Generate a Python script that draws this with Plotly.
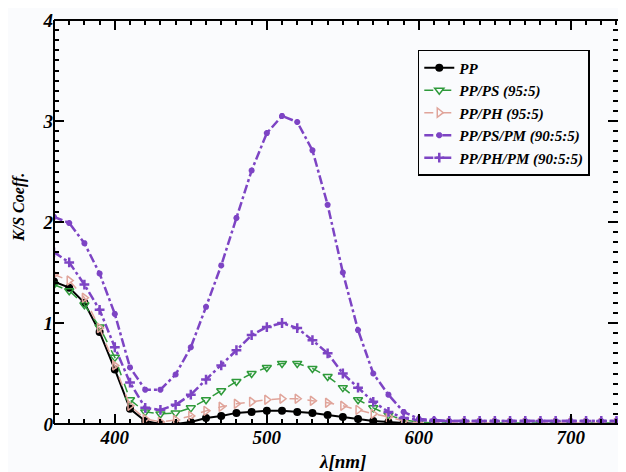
import plotly.graph_objects as go

wavelength = list(range(360, 750, 10))

pp = [1.41, 1.35, 1.20, 0.91, 0.54, 0.15, 0.03, 0.00, 0.00, 0.02,
      0.06, 0.08, 0.11, 0.12, 0.13, 0.13, 0.12, 0.11, 0.09, 0.07,
      0.05, 0.03, 0.02, 0.01, 0.00, 0.00, 0.00, 0.00, 0.00, 0.00,
      0.00, 0.00, 0.00, 0.00, 0.00, 0.00, 0.00, 0.00, 0.00]
pp_ps = [1.38, 1.32, 1.18, 0.96, 0.66, 0.24, 0.12, 0.10, 0.11, 0.16,
         0.24, 0.33, 0.42, 0.50, 0.56, 0.60, 0.60, 0.55, 0.47, 0.36,
         0.24, 0.16, 0.09, 0.04, 0.02, 0.01, 0.01, 0.01, 0.01, 0.01,
         0.01, 0.01, 0.01, 0.01, 0.01, 0.01, 0.01, 0.01, 0.01]
pp_ph = [1.48, 1.42, 1.25, 0.95, 0.58, 0.18, 0.05, 0.02, 0.04, 0.08,
         0.13, 0.17, 0.20, 0.22, 0.24, 0.25, 0.25, 0.23, 0.21, 0.18,
         0.14, 0.10, 0.07, 0.03, 0.01, 0.01, 0.01, 0.01, 0.01, 0.01,
         0.01, 0.01, 0.01, 0.01, 0.01, 0.01, 0.01, 0.01, 0.01]
pp_ps_pm = [2.05, 1.99, 1.79, 1.49, 1.09, 0.56, 0.34, 0.34, 0.49, 0.76,
            1.16, 1.57, 2.04, 2.51, 2.88, 3.05, 2.99, 2.71, 2.17, 1.50,
            0.93, 0.50, 0.29, 0.12, 0.05, 0.04, 0.03, 0.03, 0.03, 0.03,
            0.03, 0.03, 0.03, 0.03, 0.03, 0.03, 0.03, 0.03, 0.03]
pp_ph_pm = [1.70, 1.60, 1.38, 1.13, 0.76, 0.41, 0.16, 0.14, 0.19, 0.29,
            0.44, 0.58, 0.73, 0.88, 0.96, 1.00, 0.95, 0.83, 0.70, 0.50,
            0.36, 0.22, 0.12, 0.06, 0.04, 0.03, 0.03, 0.03, 0.03, 0.03,
            0.03, 0.03, 0.03, 0.03, 0.03, 0.03, 0.03, 0.03, 0.03]

names = ["PP", "PP/PS (95:5)", "PP/PH (95:5)", "PP/PS/PM (90:5:5)", "PP/PH/PM (90:5:5)"]
x_title = "λ[nm]"
y_title = "K/S Coeff."

FONT = "Liberation Serif"
purple = "#7d44c4"
bg = "#fafbfd"

fig = go.Figure()
fig.add_trace(go.Scatter(x=wavelength, y=pp, name=names[0], mode="lines+markers",
                         line=dict(color="black", width=2),
                         marker=dict(symbol="circle", size=8, color="black")))
fig.add_trace(go.Scatter(x=wavelength, y=pp_ps, name=names[1], mode="lines+markers",
                         line=dict(color="#2e9a3a", width=1.5, dash="dash"),
                         marker=dict(symbol="triangle-down-open", size=8, color="#2e9a3a",
                                     line=dict(width=1.5))))
fig.add_trace(go.Scatter(x=wavelength, y=pp_ph, name=names[2], mode="lines+markers",
                         line=dict(color="#e0a49a", width=1.5, dash="dash"),
                         marker=dict(symbol="triangle-right-open", size=8, color="#e0a49a",
                                     line=dict(width=1.5))))
fig.add_trace(go.Scatter(x=wavelength, y=pp_ps_pm, name=names[3], mode="lines+markers",
                         line=dict(color=purple, width=2.5, dash="dashdot"),
                         marker=dict(symbol="asterisk-open", size=5, color=purple,
                                     line=dict(width=2, color=purple))))
fig.add_trace(go.Scatter(x=wavelength, y=pp_ph_pm, name=names[4], mode="lines+markers",
                         line=dict(color=purple, width=2.5, dash="dashdot"),
                         marker=dict(symbol="cross-thin-open", size=7, color=purple,
                                     line=dict(width=2.5, color=purple))))

tickfont = dict(family=FONT, size=19, color="black", weight="bold", style="italic")

frame_line = dict(color="black", width=2)
fig.update_layout(
    width=610, height=464,
    margin=dict(l=46, r=0, t=12, b=48),
    paper_bgcolor=bg,
    plot_bgcolor=bg,
    font=dict(family=FONT, color="black"),
    showlegend=True,
    legend=dict(x=0.645, y=0.926, xanchor="left", yanchor="top",
                bordercolor="black", borderwidth=1.5, bgcolor=bg,
                font=dict(family=FONT, size=15, color="black", weight="bold", style="italic"),
                tracegroupgap=0, itemwidth=30),
    shapes=[
        dict(type="line", xref="paper", yref="paper", x0=0, x1=0, y0=0, y1=1, line=frame_line),
        dict(type="line", xref="paper", yref="paper", x0=0, x1=1, y0=0, y1=0, line=frame_line),
        dict(type="line", xref="paper", yref="paper", x0=0, x1=1, y0=1, y1=1, line=frame_line),
    ],
    annotations=[
        dict(text=x_title, xref="paper", yref="paper", x=0.511, y=-0.094,
             xanchor="center", yanchor="middle", showarrow=False,
             font=dict(family=FONT, size=19, color="black", weight="bold", style="italic")),
        dict(text=y_title, xref="paper", yref="paper", x=-0.062, y=0.535, textangle=-90,
             xanchor="center", yanchor="middle", showarrow=False,
             font=dict(family=FONT, size=16, color="black", weight="bold", style="italic")),
    ],
)
fig.update_xaxes(range=[360, 731], tickvals=[400, 500, 600, 700],
                 ticks="inside", ticklen=10, tickwidth=2, tickcolor="black",
                 minor=dict(dtick=10, ticks="inside", ticklen=5, tickwidth=1.5, tickcolor="black"),
                 showline=False, mirror="ticks",
                 showgrid=False, zeroline=False, tickfont=tickfont)
fig.update_yaxes(range=[0, 4], tickvals=[0, 1, 2, 3, 4],
                 ticks="inside", ticklen=10, tickwidth=2, tickcolor="black",
                 minor=dict(dtick=0.1, ticks="inside", ticklen=5, tickwidth=1.5, tickcolor="black"),
                 showline=False, mirror="ticks",
                 showgrid=False, zeroline=False, tickfont=tickfont)

fig.write_html("out.html")
